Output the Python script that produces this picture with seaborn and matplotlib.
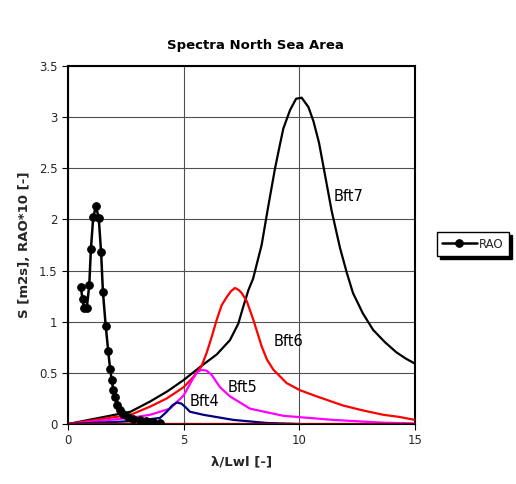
import matplotlib
matplotlib.use("Agg")
import matplotlib.pyplot as plt
from matplotlib.ticker import FixedLocator, FixedFormatter
import seaborn as sns
import pandas as pd

# wave spectra
bft7_x = [0, 2.7, 3.55, 4.3, 5.0, 5.78, 6.43, 7.0, 7.36, 7.58, 7.8, 8.0, 8.37, 8.65, 8.95, 9.15,
          9.31, 9.6, 9.86, 10.1, 10.39, 10.61, 10.85, 11.04, 11.4, 11.76, 12.05, 12.32, 12.75,
          13.19, 13.7, 14.2, 14.6, 15.0]
bft7_y = [0, 0.12, 0.22, 0.32, 0.43, 0.57, 0.68, 0.82, 0.98, 1.15, 1.31, 1.42, 1.75, 2.12, 2.50, 2.72,
          2.89, 3.07, 3.18, 3.19, 3.10, 2.96, 2.75, 2.52, 2.08, 1.72, 1.48, 1.28, 1.08,
          0.92, 0.80, 0.70, 0.64, 0.59]
bft6_x = [0, 2.7, 3.55, 4.27, 5.0, 5.42, 5.78, 6.0, 6.21, 6.43, 6.64, 6.86, 7.05, 7.22, 7.38,
          7.51, 7.73, 8.01, 8.37, 8.6, 8.88, 9.45, 10.03, 10.75, 11.9, 12.8, 13.63, 14.3, 15.0]
bft6_y = [0, 0.09, 0.17, 0.25, 0.36, 0.46, 0.57, 0.70, 0.85, 1.02, 1.16, 1.24, 1.30, 1.33, 1.31,
          1.28, 1.20, 1.02, 0.76, 0.63, 0.53, 0.40, 0.33, 0.27, 0.18, 0.13, 0.09, 0.07, 0.04]
bft5_x = [0, 2.7, 3.55, 4.41, 5.0, 5.42, 5.6, 5.78, 6.0, 6.21, 6.57, 7.0, 7.87, 9.31, 11.47, 13.6, 15.0]
bft5_y = [0, 0.06, 0.09, 0.15, 0.28, 0.45, 0.51, 0.53, 0.52, 0.48, 0.36, 0.27, 0.15, 0.08, 0.04, 0.013, 0.005]
bft4_x = [0, 3.0, 3.98, 4.27, 4.5, 4.7, 4.9, 5.1, 5.27, 5.85, 7.15, 8.6, 10.0]
bft4_y = [0, 0.03, 0.06, 0.12, 0.18, 0.21, 0.20, 0.16, 0.12, 0.09, 0.04, 0.01, 0.0]
zero_x = [0, 15]
zero_y = [0, 0]

# RAO*10
rao_x = [0.55, 0.63, 0.69, 0.81, 0.92, 0.99, 1.09, 1.21, 1.33, 1.43, 1.51, 1.63, 1.74, 1.82,
         1.89, 1.96, 2.03, 2.13, 2.23, 2.37, 2.59, 2.81, 3.1, 3.38, 3.67, 3.96]
rao_y = [1.34, 1.22, 1.13, 1.13, 1.36, 1.71, 2.02, 2.13, 2.01, 1.68, 1.29, 0.96, 0.71, 0.54,
         0.43, 0.33, 0.26, 0.19, 0.14, 0.10, 0.07, 0.05, 0.04, 0.03, 0.02, 0.01]

spectra = [('Bft7', bft7_x, bft7_y, 'black'),
           ('Bft6', bft6_x, bft6_y, '#ff0000'),
           ('Bft5', bft5_x, bft5_y, '#ff00ff'),
           ('Bft4', bft4_x, bft4_y, '#000080'),
           ('zero', zero_x, zero_y, '#800000')]
# where the curve names are written
labels = {'Bft7': (11.5, 2.18), 'Bft6': (8.9, 0.76), 'Bft5': (6.9, 0.31), 'Bft4': (5.25, 0.18)}

x_ticks = [0, 5, 10, 15]
x_tick_labels = ['0', '5', '10', '15']
y_ticks = [0, 0.5, 1, 1.5, 2, 2.5, 3, 3.5]
y_tick_labels = ['0', '0.5', '1', '1.5', '2', '2.5', '3', '3.5']

sns.set_style("white")
plt.rcParams['font.family'] = ['DejaVu Sans']

fig = plt.figure(figsize=(5.16, 4.84), dpi=100)
ax = fig.add_axes([68 / 516, 1 - 424 / 484, 347 / 516, 358 / 484])

for name, xs, ys, col in spectra:
    df = pd.DataFrame({'x': xs, 'y': ys})
    sns.lineplot(data=df, x='x', y='y', ax=ax, color=col, lw=1.6, sort=False,
                 estimator=None, legend=False, zorder=3)
    if name in labels:
        ax.text(labels[name][0], labels[name][1], name, fontsize=10.5, color='black', zorder=5)

rao = pd.DataFrame({'x': rao_x, 'y': rao_y})
sns.lineplot(data=rao, x='x', y='y', ax=ax, color='black', lw=1.8, sort=False, estimator=None,
             marker='o', markersize=5.5, markeredgecolor='black', label='RAO', zorder=4)

ax.set_xlim(0, 15)
ax.set_ylim(0, 3.5)
ax.xaxis.set_major_locator(FixedLocator(x_ticks))
ax.xaxis.set_major_formatter(FixedFormatter(x_tick_labels))
ax.yaxis.set_major_locator(FixedLocator(y_ticks))
ax.yaxis.set_major_formatter(FixedFormatter(y_tick_labels))
ax.grid(True, color='#505050', lw=0.8)
ax.set_axisbelow(True)
ax.tick_params(axis='both', direction='out', length=4, width=0.8, color='black',
               labelsize=8.5, bottom=True, left=True)
for sp in ax.spines.values():
    sp.set_color('black')
    sp.set_linewidth(1.5)

ax.set_xlabel('λ/Lwl [-]', fontsize=9.5, fontweight='bold', labelpad=6)
ax.set_ylabel('S [m2s], RAO*10 [-]', fontsize=9.5, fontweight='bold', labelpad=6)
fig.text(0.496, 0.907, 'Spectra North Sea Area', fontsize=9.5, fontweight='bold',
         ha='center', va='center', color='black')

ax.legend_.remove()
h, l = ax.get_legend_handles_labels()
fig.legend(h, l, loc='center left', bbox_to_anchor=(437 / 516, 1 - 244 / 484),
           frameon=True, fancybox=False, edgecolor='black', framealpha=1,
           shadow={'color': 'black', 'alpha': 1}, fontsize=8.5, handlelength=2.9,
           borderpad=0.45, handletextpad=0.2, borderaxespad=0)

fig.savefig('out.png', dpi=100)
